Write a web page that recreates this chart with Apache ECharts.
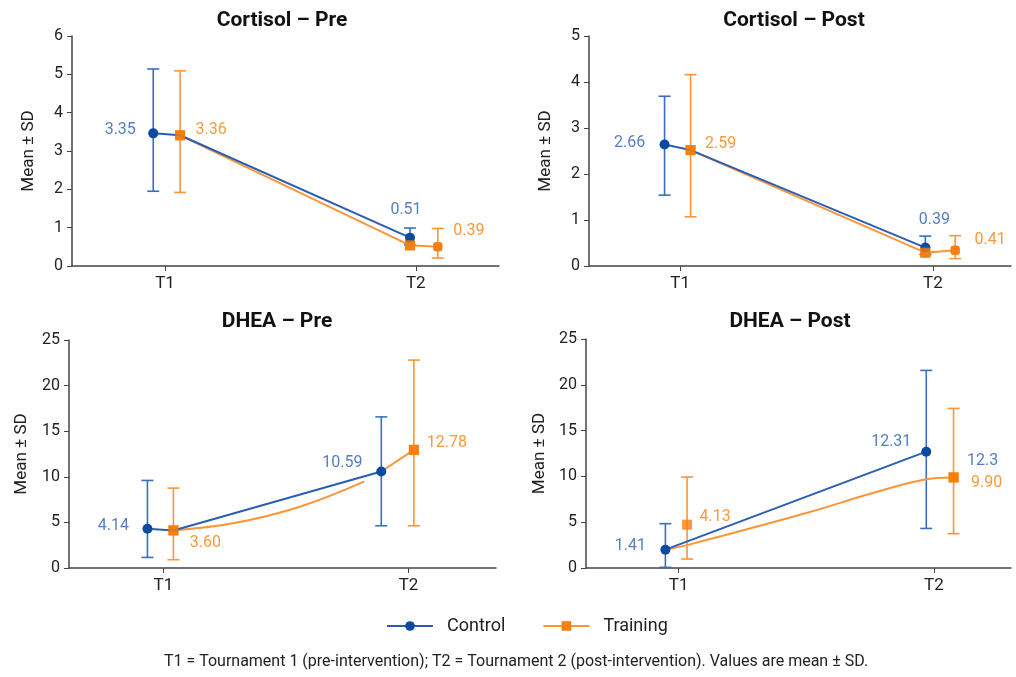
<!DOCTYPE html>
<html>
<head>
<meta charset="utf-8">
<script src="https://cdn.jsdelivr.net/npm/echarts@6/dist/echarts.min.js"></script>
<style>
  html, body { margin: 0; background: #fff; }
  #main { width: 1016px; height: 677px; }
</style>
</head>
<body>
<div id="main"></div>
<script>
// ---- data ----
const panelTitles = ['Cortisol – Pre', 'Cortisol – Post', 'DHEA – Pre', 'DHEA – Post'];
const yMaxes = [6, 5, 25, 25];
const yIntervals = [1, 1, 5, 5];
const timeLabels = ['T1', 'T2'];

// plotted means and SD bar ends, [T1, T2] per panel
const controlMean = [[3.46, 0.74], [2.64, 0.40], [4.30, 10.58], [2.00, 12.70]];
const controlLow = [[1.95, 0.55], [1.54, 0.25], [1.16, 4.63], [0.07, 4.32]];
const controlHigh = [[5.14, 0.99], [3.69, 0.65], [9.60, 16.57], [4.84, 21.57]];
const trainingMean = [[3.41, 0.54], [2.52, 0.29], [4.12, 12.96], [4.73, 9.89]];
const trainingLow = [[1.92, null], [1.07, null], [0.91, 4.63], [0.98, 3.74]];
const trainingHigh = [[5.09, null], [4.16, null], [8.76, 22.80], [9.93, 17.42]];
// second orange marker beside T2 in the cortisol panels
const trainingT2bMean = [0.50, 0.34];
const trainingT2bLow = [0.21, 0.16];
const trainingT2bHigh = [0.98, 0.66];
// orange trend curves in the DHEA panels, [time, value]
const dheaPreTrainingCurve = [[1.29, 4.93], [1.56, 6.75], [1.82, 9.49]];
const dheaPostTrainingCurve = [[1.04, 2.55], [1.50, 6.00], [1.76, 8.19], [1.96, 9.64]];
// printed value labels
const controlText = [['3.35', '0.51'], ['2.66', '0.39'], ['4.14', '10.59'], ['1.41', '12.31']];
const trainingText = [['3.36', '0.39'], ['2.59', '0.41'], ['3.60', '12.78'], ['4.13', '9.90']];
const strayText = '12.3';
const footnote = 'T1 = Tournament 1 (pre-intervention); T2 = Tournament 2 (post-intervention). Values are mean ± SD.';

// ---- layout ----
const BLUE = '#2b5eb2', BLUE_MK = '#0b4a9f', ORANGE = '#ff9538', ORANGE_MK = '#f77f0c';
const grids = [
  { left: 72, top: 36, width: 427, height: 230 },
  { left: 589, top: 36, width: 422, height: 230 },
  { left: 69, top: 340, width: 427, height: 228 },
  { left: 586, top: 339, width: 425, height: 229 }
];
const xRanges = [[0.629, 2.332], [0.639, 2.309], [0.615, 2.357], [0.637, 2.302]];
const nameGaps = [35, 35, 39, 38];
const titlePos = [[282, 21], [794, 21], [277, 322], [790, 322]];
// dodge: ctrl T1, train T1, ctrl T2, train T2, train T2b
const dodge = [
  [0.953, 1.060, 1.977, 1.977, 2.088],
  [0.938, 1.041, 1.970, 1.970, 2.088],
  [0.935, 1.041, 1.889, 2.022],
  [0.948, 1.033, 1.970, 2.077]
];
const ctrlLabelOff = [[[-33, -3], [-4, -28]], [[-35, -2], [9, -28]], [[-34, -3], [-39, -9]], [[-35, -4], [-35, -10]]];
const trainLabelOff = [[[31, -5], [31, -16]], [[30, -6], [35, -10]], [[32, 13], [33, -7]], [[28, -8], [33, 6]]];

function errSeries(idx, data, color) {
  return {
    type: 'custom', name: 'err', xAxisIndex: idx, yAxisIndex: idx, z: 1, silent: true,
    data: data,
    encode: { x: 0, y: [1, 2] },
    renderItem: function (params, api) {
      const x = api.value(0);
      const lo = api.coord([x, api.value(1)]);
      const hi = api.coord([x, api.value(2)]);
      const s = { stroke: color, lineWidth: 1.6 };
      return {
        type: 'group',
        children: [
          { type: 'line', shape: { x1: lo[0], y1: lo[1], x2: hi[0], y2: hi[1] }, style: s },
          { type: 'line', shape: { x1: lo[0] - 6, y1: lo[1], x2: lo[0] + 6, y2: lo[1] }, style: s },
          { type: 'line', shape: { x1: hi[0] - 6, y1: hi[1], x2: hi[0] + 6, y2: hi[1] }, style: s }
        ]
      };
    }
  };
}

function labelSeries(idx, items) {
  return {
    type: 'scatter', name: 'lbl', xAxisIndex: idx, yAxisIndex: idx, z: 6, silent: true,
    symbolSize: 1, itemStyle: { color: 'transparent' },
    label: { show: true, position: 'inside', fontSize: 16, formatter: p => p.name },
    data: items.map(it => ({
      name: it[0], value: it[1],
      label: { offset: it[2], color: it[3] }
    }))
  };
}

const hidden = v => ({ value: v, symbol: 'none' });

const xAxes = [], yAxes = [], series = [], graphics = [];
for (let p = 0; p < 4; p++) {
  const d = dodge[p];
  xAxes.push({
    type: 'value', gridIndex: p, min: xRanges[p][0], max: xRanges[p][1],
    axisLine: { lineStyle: { color: '#444', width: 1.5 } },
    axisTick: { customValues: [1, 2], length: 5, lineStyle: { color: '#444' } },
    axisLabel: { customValues: [1, 2], formatter: v => timeLabels[Math.round(v) - 1], fontSize: 17, color: '#222', margin: 9 },
    splitLine: { show: false }
  });
  yAxes.push({
    type: 'value', gridIndex: p, min: 0, max: yMaxes[p], interval: yIntervals[p],
    name: 'Mean ± SD', nameLocation: 'middle', nameGap: nameGaps[p],
    nameTextStyle: { fontSize: 17, color: '#222' },
    axisLine: { show: true, lineStyle: { color: '#444', width: 1.5 } },
    axisTick: { show: true, length: 5, lineStyle: { color: '#444' } },
    axisLabel: { fontSize: 16, color: '#222', margin: 9 },
    splitLine: { show: false }
  });

  const c1 = [d[0], controlMean[p][0]], c2 = [d[2], controlMean[p][1]];
  const t1 = [d[1], trainingMean[p][0]], t2 = [d[3], trainingMean[p][1]];
  const lineBase = { type: 'line', xAxisIndex: p, yAxisIndex: p, symbolSize: 10, silent: true };

  // error bars
  series.push(errSeries(p, [[d[0], controlLow[p][0], controlHigh[p][0]], [d[2], controlLow[p][1], controlHigh[p][1]]], '#3a6dc2'));
  const orangeErr = [[d[1], trainingLow[p][0], trainingHigh[p][0]]];
  if (p < 2) orangeErr.push([d[4], trainingT2bLow[p], trainingT2bHigh[p]]);
  else orangeErr.push([d[3], trainingLow[p][1], trainingHigh[p][1]]);
  series.push(errSeries(p, orangeErr, ORANGE));

  // training paths (drawn under the control line)
  const orange = { name: 'Training', symbol: 'rect', lineStyle: { color: ORANGE, width: 2 }, itemStyle: { color: ORANGE_MK } };
  let orangeMarks;
  if (p < 2) {
    const t2b = { value: [d[4], trainingT2bMean[p]], symbol: 'roundRect', symbolSize: 9 };
    series.push(Object.assign({}, lineBase, orange, { z: 2, data: [t1, t2, t2b] }));
    orangeMarks = [t1, t2, t2b];
  } else if (p === 2) {
    series.push(Object.assign({}, lineBase, orange, { z: 2, smooth: 0.4, data: [t1].concat(dheaPreTrainingCurve.map(hidden)) }));
    series.push(Object.assign({}, lineBase, orange, { z: 2, data: [hidden(c2), t2] }));
    orangeMarks = [t1, t2];
  } else {
    series.push(Object.assign({}, lineBase, orange, { z: 2, smooth: 0.4, data: [hidden(c1)].concat(dheaPostTrainingCurve.map(hidden), [t2]) }));
    orangeMarks = [t1, t2];
  }

  // control path
  const bluePath = p < 3 ? [c1, hidden(t1), c2] : [c1, c2];
  series.push(Object.assign({}, lineBase, {
    name: 'Control', z: 3, symbol: 'circle', data: bluePath,
    lineStyle: { color: BLUE, width: 2 }, itemStyle: { color: BLUE_MK }
  }));

  // orange markers on top
  series.push({
    type: 'scatter', name: 'Training', xAxisIndex: p, yAxisIndex: p, z: 4, silent: true,
    symbol: 'rect', symbolSize: 10, itemStyle: { color: ORANGE_MK }, data: orangeMarks
  });

  // value labels
  const tT2 = p < 2 ? [d[4], trainingT2bMean[p]] : t2;
  const labels = [
    [controlText[p][0], c1, ctrlLabelOff[p][0], BLUE],
    [controlText[p][1], c2, ctrlLabelOff[p][1], BLUE],
    [trainingText[p][0], t1, trainLabelOff[p][0], ORANGE_MK],
    [trainingText[p][1], tT2, trainLabelOff[p][1], ORANGE_MK]
  ];
  if (p === 3) labels.push([strayText, t2, [29, -16], BLUE]);
  series.push(labelSeries(p, labels));

  graphics.push({
    type: 'text', x: titlePos[p][0], y: titlePos[p][1],
    style: { text: panelTitles[p], font: 'bold 21px Roboto', fill: '#111', textAlign: 'center', textVerticalAlign: 'middle' }
  });
}
graphics.push({
  type: 'text', x: 516, y: 662,
  style: { text: footnote, font: '16px Roboto', fill: '#222', textAlign: 'center', textVerticalAlign: 'middle' }
});

const chart = echarts.init(document.getElementById('main'));
chart.setOption({
  animation: false,
  textStyle: { fontFamily: 'Roboto' },
  grid: grids,
  xAxis: xAxes,
  yAxis: yAxes,
  legend: {
    data: ['Control', 'Training'], left: 381, top: 612, itemWidth: 46, itemHeight: 12, itemGap: 37,
    textStyle: { fontSize: 18, color: '#222', padding: [0, 0, 0, 9] }, selectedMode: false
  },
  graphic: graphics,
  series: series
});
</script>
</body>
</html>
